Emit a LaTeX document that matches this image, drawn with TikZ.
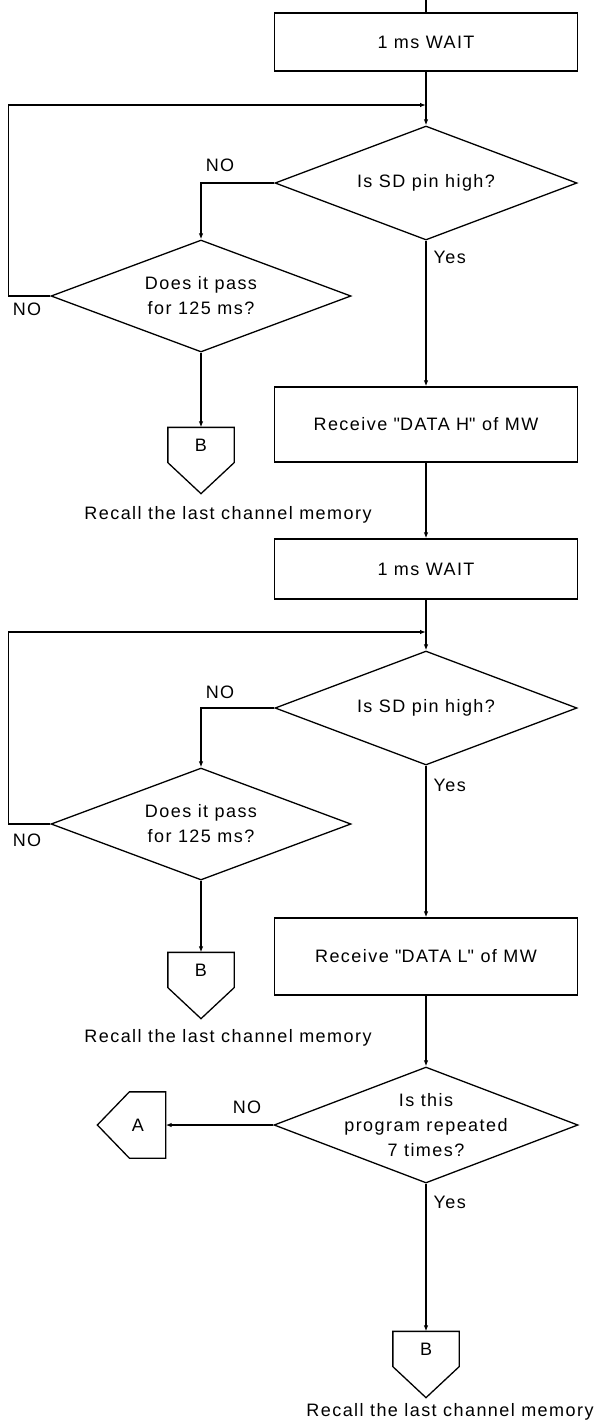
\documentclass[tikz,border=0pt]{standalone}
\usepackage{fontspec}
\setmainfont{Liberation Sans}[LetterSpace=8]
\usetikzlibrary{arrows.meta,calc,shapes.geometric}
\begin{document}
\begin{tikzpicture}[x=1pt,y=-1pt, line width=1.3pt,
  font=\fontsize{18}{22}\selectfont,
  box/.style={draw, rectangle, minimum width=303pt, inner sep=0pt},
  dia/.style={draw, diamond, minimum width=302pt, minimum height=114pt, inner sep=0pt},
  arr/.style={-{Latex[length=6pt,width=4.5pt]}},
  lbl/.style={inner sep=0pt},
  txt/.style={align=center, inner sep=0pt},
  conn/.style={draw=none, inner sep=0pt}]
\useasboundingbox (0,0) rectangle (598,1428);

% ---- first block
\coordinate (top) at (426,0);
\node[box, minimum height=58pt] (w1) at (426,42) {1 ms WAIT};
\coordinate (j1) at (426,105);
\node[dia] (d1) at (426,183) {};
\node[txt] (t1) at (d1) {Is SD pin high?};
\node[dia, minimum width=300pt, minimum height=112pt] (d2) at (201,296) {};
\node[txt] (t2) at (d2) {Does it pass\\[3pt]for 125 ms?};
\node[conn, minimum width=65pt, minimum height=34pt] (b1) at (201,445) {B};
\node[lbl] (r1) at (228,515) {Recall the last channel memory};
\node[box, minimum height=75pt] (h) at (426,424.5) {Receive \textquotedbl DATA H\textquotedbl{} of MW};
\node[box, minimum height=60pt] (w2) at (426,569) {1 ms WAIT};

% ---- second block
\coordinate (j2) at (426,632);
\node[dia] (d3) at (426,708) {};
\node[txt] (t3) at (d3) {Is SD pin high?};
\node[dia, minimum width=300pt, minimum height=112pt] (d4) at (201,824) {};
\node[txt] (t4) at (d4) {Does it pass\\[3pt]for 125 ms?};
\node[conn, minimum width=65pt, minimum height=34pt] (b2) at (201,970) {B};
\node[lbl] (r2) at (228,1038) {Recall the last channel memory};
\node[box, minimum height=77pt] (l) at (426,956.5) {Receive \textquotedbl DATA L\textquotedbl{} of MW};

% ---- third block
\node[dia, minimum width=304pt, minimum height=116pt] (d5) at (426,1125) {};
\node[txt] (t5) at (d5) {Is this\\[3pt]program repeated\\[3pt]7 times?};
\node[conn, minimum width=35pt, minimum height=65pt] (a) at (147.5,1125) {};
\node[lbl] (at) at (138,1125) {A};
\node[conn, minimum width=65pt, minimum height=34pt] (b3) at (426,1349) {B};
\node[lbl] (r3) at (450,1412) {Recall the last channel memory};

% ---- connector shapes
\draw (b1.south west) -- (b1.north west) -- (b1.north east) -- (b1.south east) -- ($(b1.south)+(0,31)$) -- cycle;
\draw (b2.south west) -- (b2.north west) -- (b2.north east) -- (b2.south east) -- ($(b2.south)+(0,31)$) -- cycle;
\draw (b3.south west) -- (b3.north west) -- (b3.north east) -- (b3.south east) -- ($(b3.south)+(0,31)$) -- cycle;
\draw (a.north east) -- (a.north west) -- ($(a.west)+(-32,0)$) -- (a.south west) -- (a.south east) -- cycle;

% ---- connectors
\draw (top) -- (w1.north);
\draw[arr] (w1.south) -- (d1.north);
\draw[arr] (d2.west) -- ++(-42,0) |- (j1);
\draw[arr] (d1.west) -| (d2.north);
\draw[arr] (d2.south) -- (b1.north);
\draw[arr] (d1.south) -- (h.north);
\draw[arr] (h.south) -- (w2.north);
\draw[arr] (w2.south) -- (d3.north);
\draw[arr] (d4.west) -- ++(-42,0) |- (j2);
\draw[arr] (d3.west) -| (d4.north);
\draw[arr] (d4.south) -- (b2.north);
\draw[arr] (d3.south) -- (l.north);
\draw[arr] (l.south) -- (d5.north);
\draw[arr] (d5.west) -- (a.east);
\draw[arr] (d5.south) -- (b3.north);

% ---- labels
\node[lbl] (n1) at (220,165) {NO};
\node[lbl] (n2) at (27,309) {NO};
\node[lbl, anchor=west] (y1) at (433,257) {Yes};
\node[lbl] (n3) at (220,692) {NO};
\node[lbl] (n4) at (27,840) {NO};
\node[lbl, anchor=west] (y2) at (433,785) {Yes};
\node[lbl] (n5) at (247,1107) {NO};
\node[lbl, anchor=west] (y3) at (433,1202) {Yes};
\end{tikzpicture}
\end{document}
